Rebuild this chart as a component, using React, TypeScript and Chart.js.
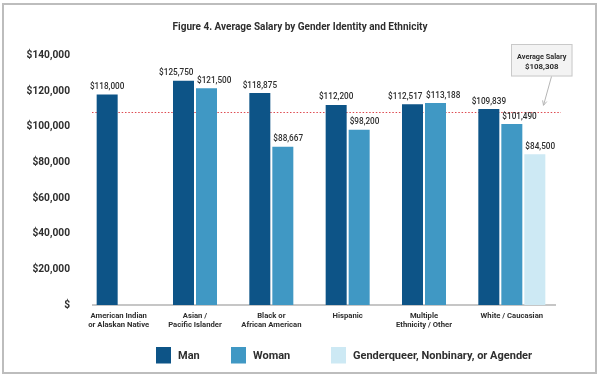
import React, { useEffect, useRef } from "react";
import { Chart, registerables } from "chart.js";

Chart.register(...registerables);

// ---------- data ----------
const CATEGORIES: string[][] = [
  ["American Indian", "or Alaskan Native"],
  ["Asian /", "Pacific Islander"],
  ["Black or", "African American"],
  ["Hispanic"],
  ["Multiple", "Ethnicity / Other"],
  ["White / Caucasian"],
];
const MAN: (number | null)[] = [118000, 125750, 118875, 112200, 112517, 109839];
const WOMAN: (number | null)[] = [null, 121500, 88667, 98200, 113188, 101490];
const GENDERQUEER: (number | null)[] = [null, null, null, null, null, 84500];
const SERIES_NAMES = ["Man", "Woman", "Genderqueer, Nonbinary, or Agender"];
const SERIES_COLORS = ["#0d5487", "#4098c4", "#cde9f4"];
const AVERAGE_SALARY = 108308;
const AVERAGE_LABEL = "Average Salary";
const TITLE = "Figure 4. Average Salary by Gender Identity and Ethnicity";
const Y_MIN = 0;
const Y_MAX = 140000;
const Y_STEP = 20000;

const FONT = "Roboto, 'Open Sans', sans-serif";
const TEXT = "#2e2e2e";

const fmt = (v: number) => (v === 0 ? "$" : "$" + v.toLocaleString("en-US"));

const decorPlugin = {
  id: "decor",
  beforeDatasetsDraw(chart: any) {
    const { ctx, chartArea, scales } = chart;
    ctx.save();
    // title
    ctx.font = `700 10px ${FONT}`;
    ctx.fillStyle = TEXT;
    ctx.textAlign = "center";
    ctx.textBaseline = "middle";
    ctx.fillText(TITLE, chart.width / 2, 27.5);

    // x axis line
    ctx.strokeStyle = "#b3b3b3";
    ctx.lineWidth = 1.5;
    ctx.beginPath();
    ctx.moveTo(chartArea.left, chartArea.bottom);
    ctx.lineTo(chartArea.right + 6, chartArea.bottom);
    ctx.stroke();

    // average line
    const y = Math.round(scales.y.getPixelForValue(AVERAGE_SALARY)) + 0.5;
    ctx.strokeStyle = "#de4a50";
    ctx.lineWidth = 1;
    ctx.setLineDash([1.5, 1.8]);
    ctx.beginPath();
    ctx.moveTo(chartArea.left, y);
    ctx.lineTo(chartArea.right + 11, y);
    ctx.stroke();
    ctx.restore();
  },
  afterDatasetsDraw(chart: any) {
    const { ctx, chartArea, scales } = chart;
    ctx.save();
    ctx.textBaseline = "middle";

    // value labels: Man centred, others aligned to bar's left edge; Man nudged left if it collides
    ctx.font = `500 8.2px ${FONT}`;
    ctx.fillStyle = TEXT;
    const metas = [0, 1, 2].map((i) => chart.getDatasetMeta(i));
    const series = [MAN, WOMAN, GENDERQUEER];
    CATEGORIES.forEach((_, i) => {
      const placed: { x0: number; x1: number; y: number; text: string }[] = [];
      series.forEach((data, di) => {
        const v = data[i];
        if (v === null || v === undefined) return;
        const el = metas[di].data[i];
        const text = fmt(v);
        const w = ctx.measureText(text).width;
        const half = el.width / 2;
        const x0 = di === 0 ? el.x - w / 2 : el.x - half + 1;
        placed.push({ x0, x1: x0 + w, y: el.y - 7.5, text });
      });
      for (let k = placed.length - 2; k >= 0; k--) {
        const a = placed[k];
        const b = placed[k + 1];
        if (Math.abs(a.y - b.y) < 9 && a.x1 + 3.5 > b.x0) {
          const d = a.x1 + 3.5 - b.x0;
          a.x0 -= d;
          a.x1 -= d;
        }
      }
      ctx.textAlign = "left";
      placed.forEach((p) => ctx.fillText(p.text, p.x0, p.y));
    });

    // category labels, centred under the bar slots in use
    ctx.textAlign = "center";
    ctx.font = `700 7.7px ${FONT}`;
    ctx.fillStyle = TEXT;
    CATEGORIES.forEach((lines, i) => {
      const xs = [metas[0].data[i].x, metas[1].data[i].x];
      if (GENDERQUEER[i] !== null) xs.push(metas[2].data[i].x);
      const cx = xs.reduce((a, b) => a + b, 0) / xs.length;
      lines.forEach((line, li) => {
        ctx.fillText(line, cx, chartArea.bottom + 11 + li * 8.9);
      });
    });

    // annotation box + arrow
    const yAvg = scales.y.getPixelForValue(AVERAGE_SALARY);
    const bx = chartArea.right - 39;
    const by = chartArea.top - 11.3;
    const bw = 61.5;
    const bh = 32.5;
    ctx.fillStyle = "#f3f3f3";
    ctx.fillRect(bx, by, bw, bh);
    ctx.strokeStyle = "#c9c9c9";
    ctx.lineWidth = 1;
    ctx.strokeRect(bx + 0.5, by + 0.5, bw - 1, bh - 1);
    ctx.fillStyle = TEXT;
    ctx.font = `700 7.3px ${FONT}`;
    ctx.fillText(AVERAGE_LABEL, bx + bw / 2, by + 13);
    ctx.font = `700 7.9px ${FONT}`;
    ctx.fillText(fmt(AVERAGE_SALARY), bx + bw / 2, by + 23.5);

    const sx = bx + 40.5;
    const sy = by + bh;
    const tx = chartArea.right - 6.5;
    const ty = yAvg - 6.5;
    ctx.strokeStyle = "#b5b5b5";
    ctx.lineWidth = 1;
    ctx.beginPath();
    ctx.moveTo(sx, sy);
    ctx.lineTo(tx, ty);
    ctx.stroke();
    const ang = Math.atan2(ty - sy, tx - sx);
    const hl = 5;
    ctx.beginPath();
    ctx.moveTo(tx - hl * Math.cos(ang - 0.45), ty - hl * Math.sin(ang - 0.45));
    ctx.lineTo(tx, ty);
    ctx.lineTo(tx - hl * Math.cos(ang + 0.45), ty - hl * Math.sin(ang + 0.45));
    ctx.stroke();

    // legend
    const boxLefts = [64, 139, 239];
    const ly = 355.5;
    ctx.font = `700 11px ${FONT}`;
    ctx.textAlign = "left";
    SERIES_NAMES.forEach((name, i) => {
      const x = chartArea.left + boxLefts[i];
      ctx.fillStyle = SERIES_COLORS[i];
      ctx.fillRect(x, ly - 8.5, 15, 16.5);
      ctx.fillStyle = TEXT;
      ctx.fillText(name, x + 22, ly + 0.5);
    });

    ctx.restore();
  },
};

export default function App() {
  const canvasRef = useRef<HTMLCanvasElement | null>(null);

  useEffect(() => {
    if (!canvasRef.current) return;
    const chart = new Chart(canvasRef.current, {
      type: "bar",
      data: {
        labels: CATEGORIES.map((c) => c.join(" ")),
        datasets: [
          { label: SERIES_NAMES[0], data: MAN, backgroundColor: SERIES_COLORS[0] },
          { label: SERIES_NAMES[1], data: WOMAN, backgroundColor: SERIES_COLORS[1] },
          { label: SERIES_NAMES[2], data: GENDERQUEER, backgroundColor: SERIES_COLORS[2] },
        ].map((d) => ({
          ...d,
          borderWidth: 0,
          categoryPercentage: 0.904,
          barPercentage: 0.913,
        })),
      },
      options: {
        animation: false,
        responsive: false,
        devicePixelRatio: 1,
        layout: { padding: { left: 5, right: 50, top: 55.3, bottom: 46 } },
        plugins: {
          legend: { display: false },
          tooltip: { enabled: false },
          title: { display: false },
        },
        scales: {
          x: {
            type: "category",
            grid: { display: false, drawTicks: false },
            border: { display: false },
            ticks: { display: false },
            afterFit: (s: any) => {
              s.height = 26;
            },
          },
          y: {
            min: Y_MIN,
            max: Y_MAX,
            grid: { display: false, drawTicks: false },
            border: { display: false },
            ticks: {
              stepSize: Y_STEP,
              padding: 22,
              color: TEXT,
              font: { family: FONT, size: 10.2, weight: "bold" },
              callback: (v: any) => fmt(Number(v)),
            },
            afterFit: (s: any) => {
              s.width = 87;
            },
          },
        },
      },
      plugins: [decorPlugin],
    });
    return () => chart.destroy();
  }, []);

  return (
    <div style={{ position: "fixed", left: 0, top: 0, width: 600, height: 377, background: "#fff" }}>
      <canvas ref={canvasRef} width={600} height={377} style={{ display: "block", width: 600, height: 377 }} />
      <div
        style={{
          position: "absolute",
          left: 2,
          top: 3,
          width: 595,
          height: 371,
          border: "2px solid #bdbdbd",
          boxSizing: "border-box",
          pointerEvents: "none",
        }}
      />
    </div>
  );
}
